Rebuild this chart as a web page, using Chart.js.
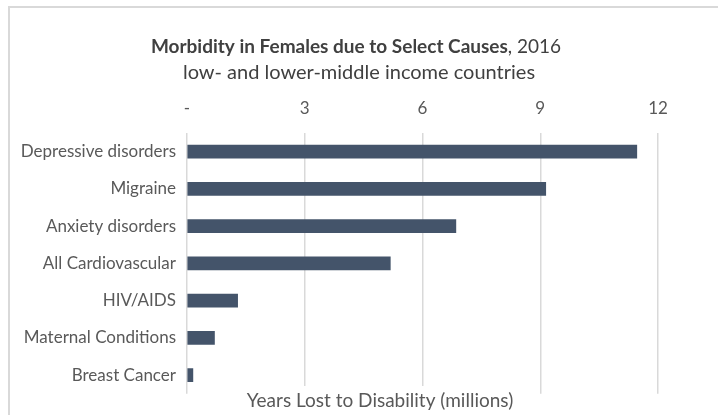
<!DOCTYPE html>
<html>
<head>
<meta charset="utf-8">
<script src="https://cdn.jsdelivr.net/npm/chart.js@4.4.0/dist/chart.umd.min.js"></script>
<style>
  html, body { margin: 0; padding: 0; background: #fff; overflow: hidden; }
  #wrap { position: relative; width: 718px; height: 415px; }
  #frame { position: absolute; left: 8px; top: 6px; width: 730px; height: 430px; border: 2px solid #d9d9d9; box-sizing: border-box; }
  canvas { position: absolute; left: 0; top: 0; }
</style>
</head>
<body>
<div id="wrap">
  <div id="frame"></div>
  <canvas id="c" width="718" height="415"></canvas>
</div>
<script>
const categories = ["Depressive disorders", "Migraine", "Anxiety disorders", "All Cardiovascular", "HIV/AIDS", "Maternal Conditions", "Breast Cancer"];
const yldMillions = [11.46, 9.14, 6.85, 5.18, 1.29, 0.70, 0.15];
const xTicks = [0, 3, 6, 9, 12];
const titleBold = "Morbidity in Females due to Select Causes";
const titleRest = ", 2016";
const subtitle = "low- and lower-middle income countries";
const axisTitle = "Years Lost to Disability (millions)";

const FONT = "Lato, 'Open Sans', sans-serif";

const textPlugin = {
  id: 'texts',
  afterDraw(chart) {
    const ctx = chart.ctx;
    ctx.save();
    ctx.textBaseline = 'middle';
    ctx.font = "bold 19px " + FONT;
    const wb = ctx.measureText(titleBold).width;
    ctx.font = "19px " + FONT;
    const wr = ctx.measureText(titleRest).width;
    const cx = 356;
    let x0 = cx - (wb + wr) / 2;
    ctx.fillStyle = '#404040';
    ctx.textAlign = 'left';
    ctx.font = "bold 19px " + FONT;
    ctx.fillText(titleBold, x0, 47);
    ctx.font = "19px " + FONT;
    ctx.fillText(titleRest, x0 + wb, 47);
    ctx.textAlign = 'center';
    ctx.font = "20px " + FONT;
    ctx.fillStyle = '#404040';
    ctx.fillText(subtitle, 359, 73);
    ctx.font = "19px " + FONT;
    const wa = ctx.measureText(axisTitle).width;
    ctx.fillStyle = '#ffffff';
    ctx.fillRect(380 - wa / 2 - 4, 386, wa + 8, 26);
    ctx.fillStyle = '#595959';
    ctx.fillText(axisTitle, 380, 401);
    ctx.restore();
  }
};

new Chart(document.getElementById('c'), {
  type: 'bar',
  data: {
    labels: categories,
    datasets: [{
      data: yldMillions,
      backgroundColor: '#44546a',
      borderWidth: 0,
      barThickness: 13
    }]
  },
  options: {
    indexAxis: 'y',
    responsive: false,
    animation: false,
    devicePixelRatio: 1,
    layout: { padding: { top: 101, right: 60, bottom: 18, left: 0 } },
    plugins: {
      legend: { display: false },
      tooltip: { enabled: false },
      title: { display: false }
    },
    scales: {
      x: {
        position: 'top',
        min: 0,
        max: 12,
        afterBuildTicks(scale) { scale.ticks = xTicks.map(v => ({ value: v })); },
        afterFit(scale) { scale.height = 32; },
        ticks: {
          padding: 14,
          color: '#595959',
          font: { family: FONT, size: 17 },
          callback: (v) => v === 0 ? '-' : String(v)
        },
        grid: { color: '#d9d9d9', lineWidth: 1.5, drawTicks: false },
        border: { display: false }
      },
      y: {
        afterFit(scale) { scale.width = 187; },
        ticks: {
          padding: 11,
          color: '#595959',
          font: { family: FONT, size: 17 }
        },
        grid: { display: false, drawTicks: false },
        border: { display: false }
      }
    }
  },
  plugins: [textPlugin]
});
</script>
</body>
</html>
